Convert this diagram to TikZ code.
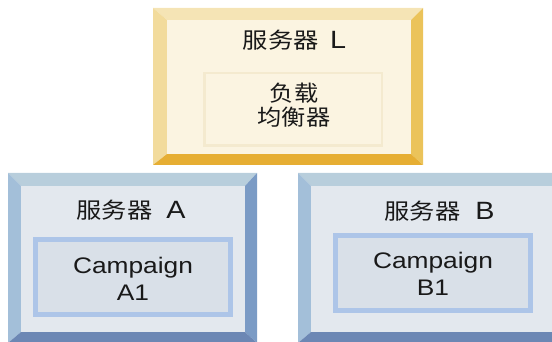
\documentclass[tikz,border=0pt]{standalone}
\usepackage{fontspec}
\setmainfont{Liberation Sans}
\newfontfamily\cjk{Noto Sans CJK SC}
\definecolor{yface}{HTML}{FBF4E1}
\definecolor{ytop}{HTML}{F5E4B5}
\definecolor{yleft}{HTML}{F2DB9C}
\definecolor{yright}{HTML}{EBC35A}
\definecolor{ybot}{HTML}{E6AE33}
\definecolor{yinner}{HTML}{F4EACF}
\definecolor{bface}{HTML}{E3E8EE}
\definecolor{btop}{HTML}{B8CEDC}
\definecolor{bleft}{HTML}{A3BFD9}
\definecolor{bright}{HTML}{7B9BC5}
\definecolor{bbot}{HTML}{6C87B4}
\definecolor{binfill}{HTML}{D9E0E8}
\definecolor{binner}{HTML}{ADC5E8}
\newcommand\biglet[1]{{\fontsize{25}{27}\selectfont #1}}
\begin{document}
\begin{tikzpicture}[x=1pt,y=-1pt,
  face/.style={draw=none, inner sep=0pt, rectangle},
  title/.style={font=\fontsize{22}{27}\selectfont, text=black!90, xscale=1.15, transform shape, inner sep=0pt},
  cjktext/.style={font=\cjk\fontsize{22}{24}\selectfont, text=black!90, align=center, xscale=1.1, transform shape, inner sep=0pt},
  lattext/.style={font=\fontsize{22.5}{27}\selectfont, text=black!90, align=center, xscale=1.17, transform shape, inner sep=0pt},
  ybox/.style={draw=yinner, line width=2.5pt, fill=yface, inner sep=0pt},
  bbox/.style={draw=binner, line width=5pt, fill=binfill, inner sep=0pt}]
\useasboundingbox (0,0) rectangle (552,342);
\begin{scope}
\clip (0,0) rectangle (552,342);
% server L
\node[face, fill=yface, minimum width=244, minimum height=134] (L) at (289,87) {};
\fill[ytop] (153,8) -- (423,8) -- (L.north east) -- (L.north west) -- cycle;
\fill[yleft] (153,8) -- (L.north west) -- (L.south west) -- (153,165) -- cycle;
\fill[yright] (423,8) -- (423,165) -- (L.south east) -- (L.north east) -- cycle;
\fill[ybot] (153,165) -- (423,165) -- (L.south east) -- (L.south west) -- cycle;
% server A
\node[face, fill=bface, minimum width=224, minimum height=146] (A) at (133,259) {};
\fill[btop] (8,173) -- (257,173) -- (A.north east) -- (A.north west) -- cycle;
\fill[bleft] (8,173) -- (A.north west) -- (A.south west) -- (8,343) -- cycle;
\fill[bright] (257,173) -- (257,343) -- (A.south east) -- (A.north east) -- cycle;
\fill[bbot] (8,343) -- (257,343) -- (A.south east) -- (A.south west) -- cycle;
% server B
\node[face, fill=bface, minimum width=249, minimum height=146] (B) at (435.5,259) {};
\fill[btop] (298,173) -- (572,173) -- (B.north east) -- (B.north west) -- cycle;
\fill[bleft] (298,173) -- (B.north west) -- (B.south west) -- (298,343) -- cycle;
\fill[bright] (572,173) -- (572,343) -- (B.south east) -- (B.north east) -- cycle;
\fill[bbot] (298,343) -- (572,343) -- (B.south east) -- (B.south west) -- cycle;
\end{scope}
% inner boxes
\node[ybox, minimum width=177.5, minimum height=72.5] (lb) at (293,109.5) {};
\node[bbox, minimum width=195, minimum height=75] (ca) at (133,277) {};
\node[bbox, minimum width=195, minimum height=75] (cb) at (433,273) {};
% texts
\node[title] (tL) at (294.5,40.5) {{\cjk 服务器}\hspace{10pt}\biglet{L}};
\node[title] (tA) at (131,210) {{\cjk 服务器}\hspace{12pt}\biglet{A}};
\node[title] (tB) at (439.5,211) {{\cjk 服务器}\hspace{13pt}\biglet{B}};
\node[cjktext] (lbt) at (294,105) {负载\\均衡器};
\node[lattext] (cat) at (133,279) {Campaign\\A1};
\node[lattext] (cbt) at (433,274) {Campaign\\B1};
\end{tikzpicture}
\end{document}
